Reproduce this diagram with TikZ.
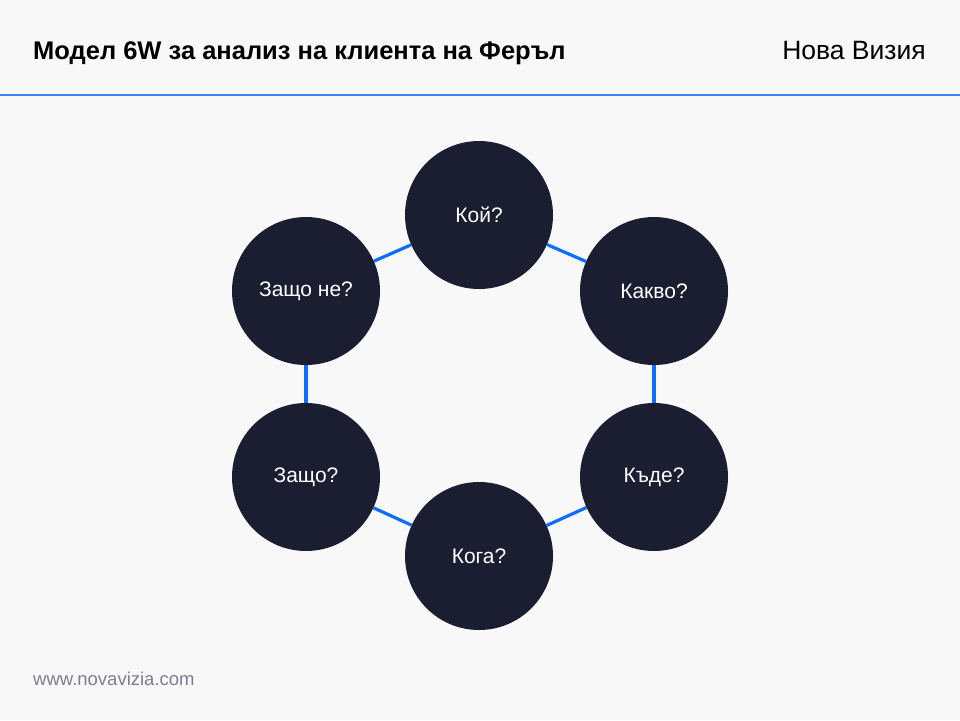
\documentclass[tikz,border=0pt]{standalone}
\usepackage{fontspec}
\setmainfont{Liberation Sans}
\definecolor{bgcol}{HTML}{F8F8F9}
\definecolor{navy}{HTML}{1A1E30}
\definecolor{linkblue}{HTML}{0D6EFD}
\definecolor{rulblue}{HTML}{3B82F6}
\definecolor{footgray}{HTML}{7C7F90}
\tikzset{
  wnode/.style={circle, fill=navy, minimum size=148pt, inner sep=0pt, text=white, font=\fontsize{21}{25}\selectfont},
  wlink/.style={draw=linkblue, line width=3.2pt}
}
\begin{document}
\begin{tikzpicture}[x=1pt, y=-1pt]
\def\W{960};
\def\H{720};

\fill[bgcol] (0, 0) rectangle (\W, \H);
\useasboundingbox (0, 0) rectangle (\W, \H);

% header
\node[anchor=base west, inner sep=0pt, font=\fontsize{25.5}{30}\selectfont\bfseries] (title) at (33, 59) {Модел 6W за анализ на клиента на Феръл};
\node[anchor=base east, inner sep=0pt, font=\fontsize{26.5}{30}\selectfont] (brand) at (926, 59) {Нова Визия};
\draw[rulblue, line width=2.4pt] (0, 95) -- (\W, 95);

% the six W
\node[wnode] (koi) at (479, 215) {Кой?};
\node[wnode] (kakvo) at (654, 291) {Какво?};
\node[wnode] (kade) at (654, 477) {Къде?};
\node[wnode] (koga) at (479, 556) {Кога?};
\node[wnode] (zashto) at (306, 477) {Защо?};
\node[wnode] (zashtone) at (306, 291) {Защо не?};

\draw[wlink] (koi) -- (kakvo);
\draw[wlink] (kakvo) -- (kade);
\draw[wlink] (kade) -- (koga);
\draw[wlink] (koga) -- (zashto);
\draw[wlink] (zashto) -- (zashtone);
\draw[wlink] (zashtone) -- (koi);

% footer
\node[anchor=base west, inner sep=0pt, text=footgray, font=\fontsize{18.5}{22}\selectfont] (site) at (33, 685) {www.novavizia.com};

\end{tikzpicture}
\end{document}
